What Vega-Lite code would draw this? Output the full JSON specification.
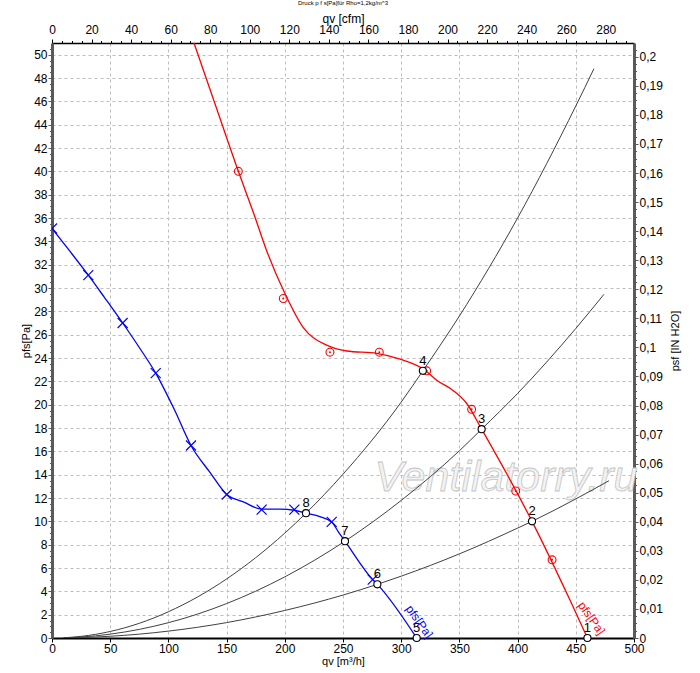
{
  "$schema": "https://vega.github.io/schema/vega-lite/v6.json",
  "width": 582,
  "height": 595,
  "autosize": "none",
  "padding": {"left": 52, "top": 43, "right": 66, "bottom": 35},
  "background": "white",
  "title": {"text": "Druck p f s[Pa]für Rho=1,2kg/m^3", "fontSize": 6, "fontWeight": "normal", "font": "Liberation Sans", "offset": 7, "anchor": "middle"},
  "config": {
    "view": {"stroke": null},
    "font": "Liberation Sans",
    "axis": {"labelFont": "Liberation Sans", "labelFontSize": 12, "labelColor": "#000", "titleFont": "Liberation Sans", "titleFontWeight": "normal", "titleColor": "#000", "tickColor": "#000", "labelOverlap": false, "labelFlush": false}
  },
  "datasets": {
    "blue": [
      {"qv": 0, "p": 35.1}, {"qv": 15, "p": 33.2}, {"qv": 31.2, "p": 31.1}, {"qv": 45, "p": 29.2},
      {"qv": 60.7, "p": 27.0}, {"qv": 75, "p": 24.9}, {"qv": 89.1, "p": 22.7}, {"qv": 105, "p": 19.6},
      {"qv": 119.4, "p": 16.5}, {"qv": 135.7, "p": 14.2}, {"qv": 150.1, "p": 12.3}, {"qv": 164.4, "p": 11.66},
      {"qv": 180.1, "p": 11.05}, {"qv": 195.9, "p": 11.05}, {"qv": 208.2, "p": 10.95}, {"qv": 218.2, "p": 10.7},
      {"qv": 230.2, "p": 10.4}, {"qv": 240.3, "p": 9.95}, {"qv": 246, "p": 9.1}, {"qv": 251.7, "p": 8.3},
      {"qv": 275.5, "p": 5.0}, {"qv": 279.5, "p": 4.6}, {"qv": 313.3, "p": 0}
    ],
    "blueMarks": [
      {"qv": 0, "p": 35.1}, {"qv": 31.2, "p": 31.1}, {"qv": 60.7, "p": 27.0}, {"qv": 89.1, "p": 22.7},
      {"qv": 119.4, "p": 16.5}, {"qv": 150.1, "p": 12.3}, {"qv": 180.1, "p": 11.0}, {"qv": 208.2, "p": 11.0},
      {"qv": 240.3, "p": 9.95}, {"qv": 275.5, "p": 5.0}
    ],
    "red": [
      {"qv": 122, "p": 51}, {"qv": 141.2, "p": 45.45}, {"qv": 160.1, "p": 40.0}, {"qv": 172.9, "p": 36.5},
      {"qv": 184.4, "p": 33.2}, {"qv": 200.2, "p": 29.5}, {"qv": 215.9, "p": 26.6}, {"qv": 236, "p": 25.1},
      {"qv": 253.2, "p": 24.6}, {"qv": 279, "p": 24.4}, {"qv": 299, "p": 23.9}, {"qv": 319, "p": 23.05},
      {"qv": 330.5, "p": 22.1}, {"qv": 344.8, "p": 21.2}, {"qv": 356.3, "p": 20.1}, {"qv": 369.1, "p": 17.9},
      {"qv": 412.4, "p": 10.0}, {"qv": 445, "p": 3.25}, {"qv": 460, "p": 0}
    ],
    "redMarks": [
      {"qv": 160.1, "p": 40.0}, {"qv": 198.7, "p": 29.1}, {"qv": 238.8, "p": 24.5}, {"qv": 281.2, "p": 24.5},
      {"qv": 321.9, "p": 22.9}, {"qv": 360.5, "p": 19.6}, {"qv": 398.4, "p": 12.6}, {"qv": 429.6, "p": 6.7}
    ],
    "sys": [
      {"curve": "A", "qv": 10, "p": 0.02}, {"curve": "A", "qv": 25, "p": 0.14}, {"curve": "A", "qv": 50, "p": 0.56},
      {"curve": "A", "qv": 75, "p": 1.26}, {"curve": "A", "qv": 100, "p": 2.25}, {"curve": "A", "qv": 150, "p": 5.06},
      {"curve": "A", "qv": 200, "p": 8.99}, {"curve": "A", "qv": 218.2, "p": 10.7}, {"curve": "A", "qv": 250, "p": 14.04},
      {"curve": "A", "qv": 300, "p": 20.22}, {"curve": "A", "qv": 318.6, "p": 22.9}, {"curve": "A", "qv": 350, "p": 27.6},
      {"curve": "A", "qv": 400, "p": 36.0}, {"curve": "A", "qv": 450, "p": 45.6}, {"curve": "A", "qv": 465.6, "p": 48.8},
      {"curve": "B", "qv": 10, "p": 0.01}, {"curve": "B", "qv": 25, "p": 0.08}, {"curve": "B", "qv": 50, "p": 0.33},
      {"curve": "B", "qv": 75, "p": 0.74}, {"curve": "B", "qv": 100, "p": 1.31}, {"curve": "B", "qv": 150, "p": 2.95},
      {"curve": "B", "qv": 200, "p": 5.24}, {"curve": "B", "qv": 251.7, "p": 8.3}, {"curve": "B", "qv": 300, "p": 11.79},
      {"curve": "B", "qv": 350, "p": 16.05}, {"curve": "B", "qv": 369.1, "p": 17.9}, {"curve": "B", "qv": 400, "p": 20.96},
      {"curve": "B", "qv": 450, "p": 26.53}, {"curve": "B", "qv": 474.2, "p": 29.46},
      {"curve": "C", "qv": 10, "p": 0.01}, {"curve": "C", "qv": 25, "p": 0.04}, {"curve": "C", "qv": 50, "p": 0.15},
      {"curve": "C", "qv": 75, "p": 0.33}, {"curve": "C", "qv": 100, "p": 0.59}, {"curve": "C", "qv": 150, "p": 1.32},
      {"curve": "C", "qv": 200, "p": 2.36}, {"curve": "C", "qv": 250, "p": 3.68}, {"curve": "C", "qv": 279.5, "p": 4.6},
      {"curve": "C", "qv": 300, "p": 5.3}, {"curve": "C", "qv": 350, "p": 7.21}, {"curve": "C", "qv": 400, "p": 9.42},
      {"curve": "C", "qv": 412.4, "p": 10.0}, {"curve": "C", "qv": 450, "p": 11.92}, {"curve": "C", "qv": 478.5, "p": 13.48}
    ],
    "ops": [
      {"label": "1", "qv": 460, "p": 0}, {"label": "2", "qv": 412.4, "p": 10.0}, {"label": "3", "qv": 369.1, "p": 17.9},
      {"label": "4", "qv": 318.6, "p": 22.9}, {"label": "5", "qv": 313.3, "p": 0}, {"label": "6", "qv": 279.5, "p": 4.6},
      {"label": "7", "qv": 251.7, "p": 8.3}, {"label": "8", "qv": 218.2, "p": 10.7}
    ],
    "curveLabels": [
      {"text": "pfs[Pa]", "series": "blue", "qv": 315.5, "p": 1.4},
      {"text": "pfs[Pa]", "series": "red", "qv": 463.5, "p": 1.7}
    ],
    "watermark": [{"text": "Ventilatorry.ru", "qv": 390, "p": 13.7}],
    "range": [{"qv": 0, "cfm": 0, "inh2o": 0, "p": 0}, {"qv": 500, "cfm": 294.29, "inh2o": 0.20475, "p": 51}]
  },
  "layer": [
    {
      "data": {"name": "range"},
      "mark": {"type": "point", "opacity": 0},
      "encoding": {
        "x": {"field": "qv", "type": "quantitative", "scale": {"domain": [0, 500], "nice": false},
          "axis": {"orient": "bottom", "values": [0, 50, 100, 150, 200, 250, 300, 350, 400, 450, 500], "labelOverlap": false, "grid": true, "gridDash": [3, 3], "gridColor": "#bdbdbd", "domainColor": "#000", "domainWidth": 2, "tickSize": 4, "labelPadding": 1, "title": "qv [m³/h]", "titleFontSize": 11, "titlePadding": 1}},
        "y": {"field": "p", "type": "quantitative", "scale": {"domain": [0, 51], "nice": false},
          "axis": {"orient": "left",
            "values": [0, 2, 4, 6, 8, 10, 12, 14, 16, 18, 20, 22, 24, 26, 28, 30, 32, 34, 36, 38, 40, 42, 44, 46, 48, 50],
            "labelOverlap": false,
            "grid": true, "gridDash": [3, 3], "gridColor": "#bdbdbd", "tickSize": 4,
            "domainColor": "#5a5a5a", "domainWidth": 3, "tickColor": "#5a5a5a", "labelPadding": 1,
            "title": "pfs[Pa]", "titleFontSize": 11, "titlePadding": 2}}
      }
    },
    {
      "layer": [
        {
          "data": {"name": "watermark"},
          "mark": {"type": "text", "fontSize": 43, "fontStyle": "italic", "font": "Liberation Sans", "fill": "#f3f3f3", "stroke": "#c4c4c4", "strokeWidth": 0.8, "align": "center", "baseline": "middle"},
          "encoding": {
            "x": {"field": "qv", "type": "quantitative", "scale": {"domain": [0, 500], "nice": false}, "axis": null},
            "y": {"field": "p", "type": "quantitative", "scale": {"domain": [0, 51], "nice": false}, "axis": null},
            "text": {"field": "text"}
          }
        },
        {
          "data": {"name": "sys"},
          "mark": {"type": "line", "color": "#404040", "strokeWidth": 1, "interpolate": "monotone", "clip": true},
          "encoding": {
            "x": {"field": "qv", "type": "quantitative", "axis": null},
            "y": {"field": "p", "type": "quantitative", "axis": null},
            "detail": {"field": "curve"}
          }
        },
        {
          "data": {"name": "blue"},
          "mark": {"type": "line", "color": "#0000ff", "strokeWidth": 1.3, "interpolate": "monotone", "clip": true},
          "encoding": {
            "x": {"field": "qv", "type": "quantitative", "axis": null},
            "y": {"field": "p", "type": "quantitative", "axis": null}
          }
        },
        {
          "data": {"name": "red"},
          "mark": {"type": "line", "color": "#ff0000", "strokeWidth": 1.3, "interpolate": "monotone", "clip": true},
          "encoding": {
            "x": {"field": "qv", "type": "quantitative", "axis": null},
            "y": {"field": "p", "type": "quantitative", "axis": null}
          }
        },
        {
          "data": {"name": "blueMarks"},
          "mark": {"type": "point", "shape": "M-1,-1L1,1M-1,1L1,-1", "size": 100, "filled": false, "stroke": "#0000ff", "strokeWidth": 1.2, "opacity": 1, "clip": true},
          "encoding": {
            "x": {"field": "qv", "type": "quantitative", "axis": null},
            "y": {"field": "p", "type": "quantitative", "axis": null}
          }
        },
        {
          "data": {"name": "redMarks"},
          "mark": {"type": "point", "shape": "circle", "size": 62, "filled": false, "stroke": "#ff0000", "strokeWidth": 1.1, "opacity": 1},
          "encoding": {
            "x": {"field": "qv", "type": "quantitative", "axis": null},
            "y": {"field": "p", "type": "quantitative", "axis": null}
          }
        },
        {
          "data": {"name": "redMarks"},
          "mark": {"type": "point", "shape": "circle", "size": 4, "filled": true, "color": "#ff0000", "opacity": 1},
          "encoding": {
            "x": {"field": "qv", "type": "quantitative", "axis": null},
            "y": {"field": "p", "type": "quantitative", "axis": null}
          }
        },
        {
          "data": {"name": "ops"},
          "mark": {"type": "point", "shape": "circle", "size": 50, "filled": true, "fill": "#ffffff", "stroke": "#000000", "strokeWidth": 1.1, "opacity": 1},
          "encoding": {
            "x": {"field": "qv", "type": "quantitative", "axis": null},
            "y": {"field": "p", "type": "quantitative", "axis": null}
          }
        },
        {
          "data": {"name": "ops"},
          "mark": {"type": "text", "fontSize": 13, "font": "Liberation Sans", "color": "#000", "align": "center", "baseline": "middle", "dy": -10},
          "encoding": {
            "x": {"field": "qv", "type": "quantitative", "axis": null},
            "y": {"field": "p", "type": "quantitative", "axis": null},
            "text": {"field": "label"}
          }
        },
        {
          "data": {"name": "curveLabels"},
          "mark": {"type": "text", "fontSize": 12, "font": "Liberation Sans", "angle": 55, "align": "center", "baseline": "middle"},
          "encoding": {
            "x": {"field": "qv", "type": "quantitative", "axis": null},
            "y": {"field": "p", "type": "quantitative", "axis": null},
            "text": {"field": "text"},
            "color": {"field": "series", "type": "nominal", "scale": {"domain": ["blue", "red"], "range": ["#0000ff", "#ff0000"]}, "legend": null}
          }
        }
      ]
    },
    {
      "data": {"name": "range"},
      "mark": {"type": "point", "opacity": 0},
      "encoding": {
        "x": {"field": "cfm", "type": "quantitative", "scale": {"domain": [0, 294.29], "nice": false},
          "axis": {"orient": "top",
            "values": [0, 20, 40, 60, 80, 100, 120, 140, 160, 180, 200, 220, 240, 260, 280],
            "labelOverlap": false, "tickSize": 4,
            "grid": false, "domainColor": "#000", "domainWidth": 1.5, "labelPadding": 2.5,
            "title": "qv [cfm]", "titleFontSize": 12, "titlePadding": -2}},
        "y": {"field": "inh2o", "type": "quantitative", "scale": {"domain": [0, 0.20475], "nice": false},
          "axis": {"orient": "right",
            "values": [0, 0.01, 0.02, 0.03, 0.04, 0.05, 0.06, 0.07, 0.08, 0.09, 0.1, 0.11, 0.12, 0.13, 0.14, 0.15, 0.16, 0.17, 0.18, 0.19, 0.2],
            "labelExpr": "replace(format(datum.value, '.2~f'), '.', ',')",
            "labelOverlap": false, "tickSize": 4,
            "grid": false, "domainColor": "#5a5a5a", "domainWidth": 3, "tickColor": "#5a5a5a", "labelPadding": 1,
            "title": "psf [IN H2O]", "titleFontSize": 11, "titleAngle": 270, "titlePadding": 18}}
      }
    },
    {
      "data": {"name": "range"},
      "mark": {"type": "point", "opacity": 0},
      "encoding": {
        "x": {"field": "cfm", "type": "quantitative", "scale": {"domain": [0, 294.29], "nice": false},
          "axis": {"orient": "top",
            "values": [5,10,15,25,30,35,45,50,55,65,70,75,85,90,95,105,110,115,125,130,135,145,150,155,165,170,175,185,190,195,205,210,215,225,230,235,245,250,255,265,270,275,285,290],
            "labels": false, "domain": false, "grid": false, "tickSize": 2.5, "title": null}},
        "y": {"field": "p", "type": "quantitative", "scale": {"domain": [0, 51], "nice": false},
          "axis": {"orient": "left",
            "values": [0.5,1,1.5,2.5,3,3.5,4.5,5,5.5,6.5,7,7.5,8.5,9,9.5,10.5,11,11.5,12.5,13,13.5,14.5,15,15.5,16.5,17,17.5,18.5,19,19.5,20.5,21,21.5,22.5,23,23.5,24.5,25,25.5,26.5,27,27.5,28.5,29,29.5,30.5,31,31.5,32.5,33,33.5,34.5,35,35.5,36.5,37,37.5,38.5,39,39.5,40.5,41,41.5,42.5,43,43.5,44.5,45,45.5,46.5,47,47.5,48.5,49,49.5,50.5],
            "labels": false, "domain": false, "grid": false, "tickSize": 2.5, "tickColor": "#5a5a5a", "title": null}}
      }
    },
    {
      "data": {"name": "range"},
      "mark": {"type": "point", "opacity": 0},
      "encoding": {
        "x": {"field": "cfm", "type": "quantitative", "scale": {"domain": [0, 294.29], "nice": false}, "axis": null},
        "y": {"field": "inh2o", "type": "quantitative", "scale": {"domain": [0, 0.20475], "nice": false},
          "axis": {"orient": "right",
            "values": [0.0025,0.005,0.0075,0.0125,0.015,0.0175,0.0225,0.025,0.0275,0.0325,0.035,0.0375,0.0425,0.045,0.0475,0.0525,0.055,0.0575,0.0625,0.065,0.0675,0.0725,0.075,0.0775,0.0825,0.085,0.0875,0.0925,0.095,0.0975,0.1025,0.105,0.1075,0.1125,0.115,0.1175,0.1225,0.125,0.1275,0.1325,0.135,0.1375,0.1425,0.145,0.1475,0.1525,0.155,0.1575,0.1625,0.165,0.1675,0.1725,0.175,0.1775,0.1825,0.185,0.1875,0.1925,0.195,0.1975,0.2025],
            "labels": false, "domain": false, "grid": false, "tickSize": 2.5, "tickColor": "#5a5a5a", "title": null}}
      }
    }
  ],
  "resolve": {"scale": {"x": "independent", "y": "independent"}}
}
